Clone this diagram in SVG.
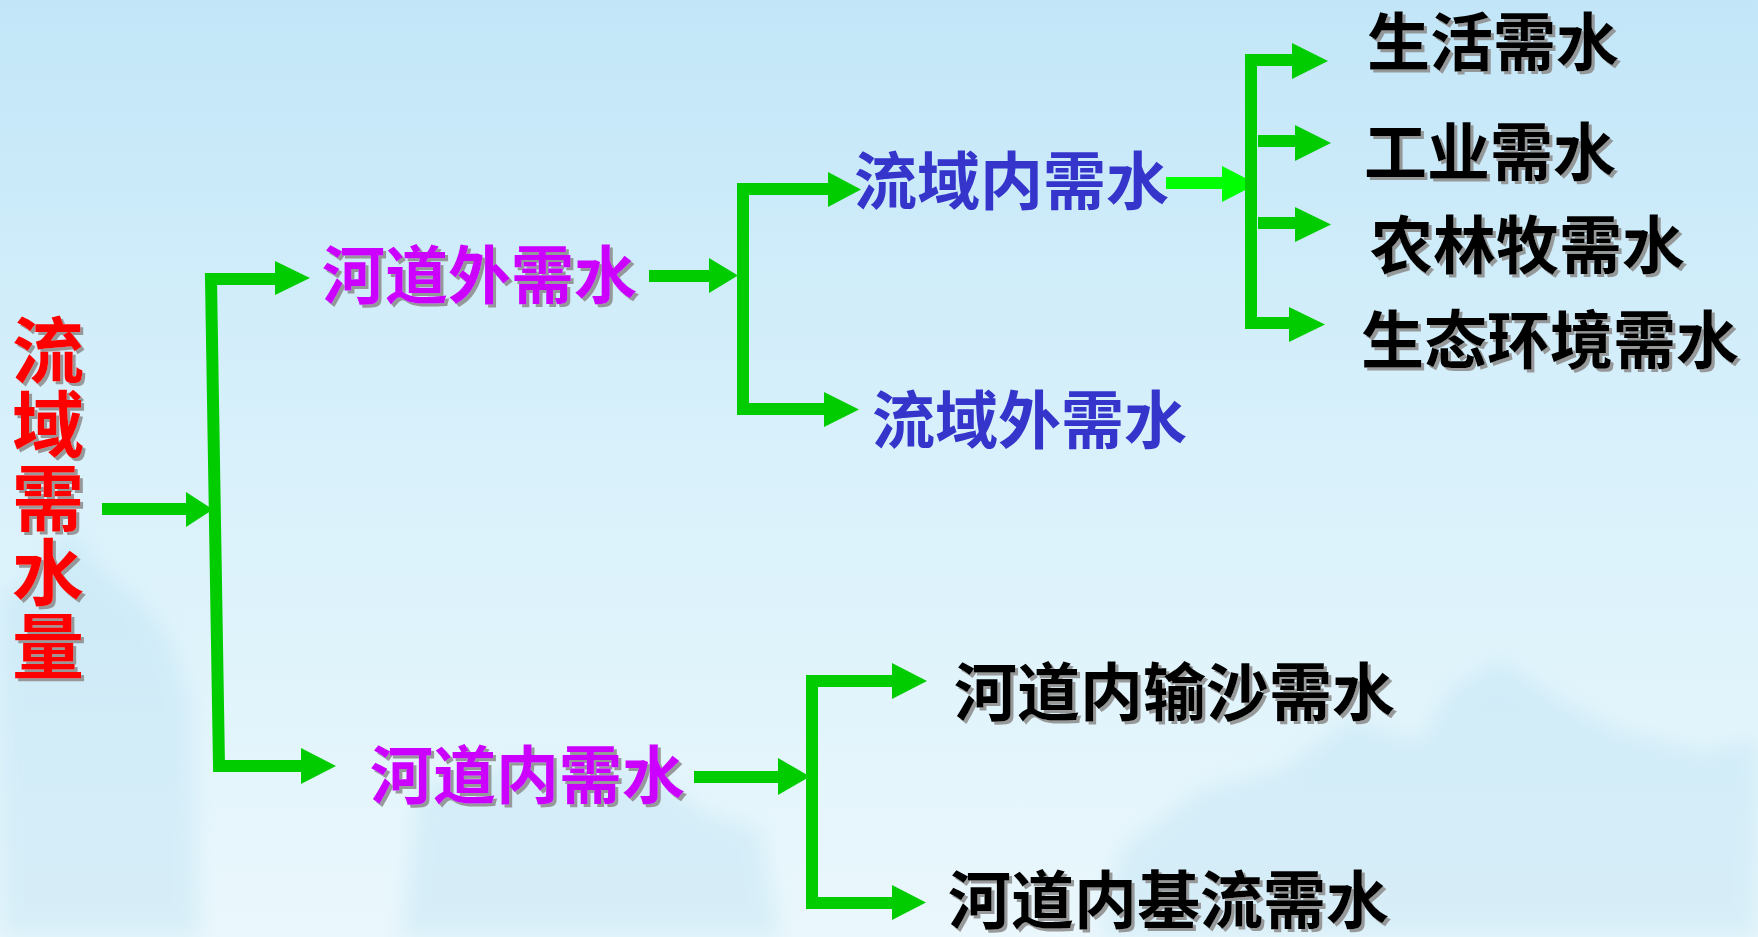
<svg xmlns="http://www.w3.org/2000/svg" width="1758" height="937" viewBox="0 0 1758 937">
<defs>
<linearGradient id="bg" x1="0" y1="0" x2="0" y2="1">
<stop offset="0" stop-color="#c2e6f8"/>
<stop offset="0.5" stop-color="#d9f1fb"/>
<stop offset="1" stop-color="#eaf7fc"/>
</linearGradient>
<filter id="sh" x="-5%" y="-5%" width="115%" height="120%">
<feDropShadow dx="3" dy="3" stdDeviation="0.6" flood-color="#8f8f8f" flood-opacity="0.9"/>
</filter>
<filter id="blur" x="-20%" y="-20%" width="140%" height="140%"><feGaussianBlur stdDeviation="10"/></filter>
</defs>
<style>
.t{font-family:"Noto Sans CJK SC","Noto Sans CJK JP",sans-serif;font-weight:700;font-size:63px}
.title{font-size:72px;fill:#ff0000;writing-mode:vertical-rl;letter-spacing:2px}
.mag{fill:#cc00ff}
.blu{fill:#3535cc}
.blk{fill:#000000}
.sd{filter:url(#sh)}
.ln{fill:none;stroke:#00cc00;stroke-width:12;stroke-linejoin:miter;stroke-linecap:butt}
.hd{fill:#00cc00}
.lnb{fill:none;stroke:#00ff00;stroke-width:12}
.hdb{fill:#00ff00}
</style>
<rect width="1758" height="937" fill="url(#bg)"/>
<g id="background" opacity="0.28" filter="url(#blur)" fill="#a9d9ef">
<path d="M0 600 L40 570 L70 530 L100 570 L140 600 L170 640 L190 700 L200 937 L0 937 Z"/>
<path d="M420 790 L520 760 L650 770 L700 810 L760 830 L780 937 L400 937 Z"/>
<path d="M1120 850 L1200 790 L1280 770 L1350 720 L1420 740 L1450 690 L1500 660 L1560 700 L1620 730 L1700 750 L1758 740 L1758 937 L1100 937 Z"/>
</g>
<g id="connectors">
<polyline class="ln" points="102,509 188,509"/>
<polygon class="hd" points="186,492 213,509.5 186,527"/>
<polyline class="ln" points="277,279 211,279 219,766 302,766"/>
<polygon class="hd" points="275,261 310,278 275,295"/>
<polygon class="hd" points="301,748 336,766 301,784"/>
<polyline class="ln" points="649,276 711,276"/>
<polygon class="hd" points="709,258 738,275.5 709,293"/>
<polyline class="ln" points="830,189 743,189 743,409 826,409"/>
<polygon class="hd" points="828,172 861,189.5 828,207"/>
<polygon class="hd" points="824,392 859,409.5 824,427"/>
<polyline class="ln" points="694,777 780,777"/>
<polygon class="hd" points="778,758 810,776.5 778,795"/>
<polyline class="ln" points="894,681 812,681 812,903 894,903"/>
<polygon class="hd" points="892,663 927,681 892,699"/>
<polygon class="hd" points="892,885 926,902.5 892,920"/>
<polyline class="lnb" points="1166,183 1224,183"/>
<polygon class="hdb" points="1222,166 1257,184 1222,202"/>
<polyline class="ln" points="1294,60 1251,60 1251,323 1291,323"/>
<polygon class="hd" points="1292,43 1328,61 1292,79"/>
<polyline class="ln" points="1258,141 1297,141"/>
<polygon class="hd" points="1295,125 1331,143 1295,161"/>
<polyline class="ln" points="1258,223 1297,223"/>
<polygon class="hd" points="1295,207 1331,224.5 1295,242"/>
<polygon class="hd" points="1289,307 1325,324.5 1289,342"/>
</g>
<g id="n-root"><text class="t title sd" x="48" y="314">流域需水量</text></g>
<g id="n-hdw"><text class="t mag sd" x="322" y="298">河道外需水</text></g>
<g id="n-hdn"><text class="t mag sd" x="370" y="798">河道内需水</text></g>
<g id="n-lyn"><text class="t blu" x="854" y="204">流域内需水</text></g>
<g id="n-lyw"><text class="t blu" x="872" y="443">流域外需水</text></g>
<g id="n-sh"><text class="t blk sd" x="1367" y="65">生活需水</text></g>
<g id="n-gy"><text class="t blk sd" x="1364" y="175">工业需水</text></g>
<g id="n-nlm"><text class="t blk sd" x="1370" y="268">农林牧需水</text></g>
<g id="n-st"><text class="t blk sd" x="1361" y="363">生态环境需水</text></g>
<g id="n-ss"><text class="t blk sd" x="954" y="715">河道内输沙需水</text></g>
<g id="n-jl"><text class="t blk sd" x="948" y="923">河道内基流需水</text></g>
</svg>
